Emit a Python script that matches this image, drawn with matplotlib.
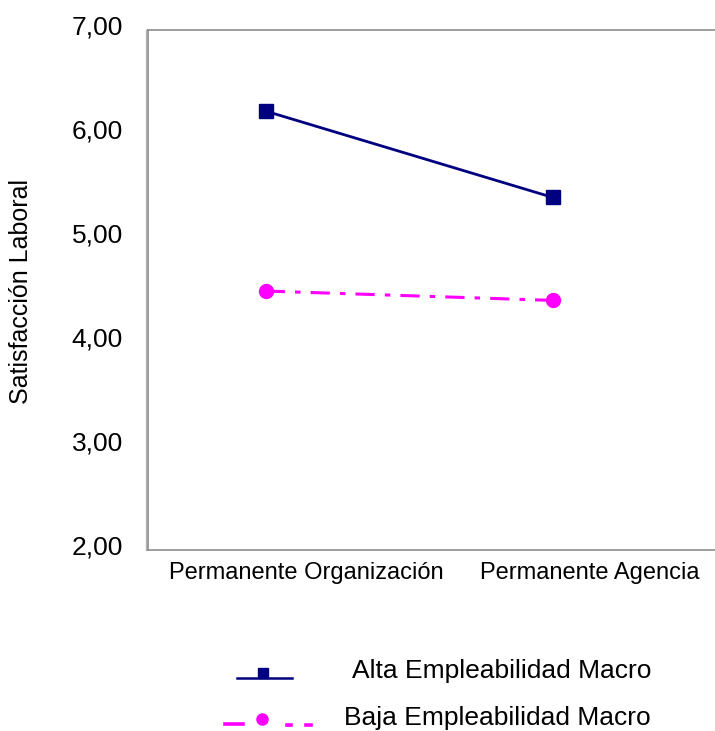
import matplotlib
matplotlib.use("Agg")
import matplotlib.pyplot as plt
import matplotlib.transforms as mtransforms

plt.rcParams['font.family'] = ['Liberation Sans', 'DejaVu Sans']

# Medias de satisfacción laboral por tipo de contrato
categorias = ["Permanente Organización", "Permanente Agencia"]
alta_macro = [6.22, 5.39]
baja_macro = [4.49, 4.40]
series = ["Alta Empleabilidad Macro", "Baja Empleabilidad Macro"]
yticks = [2, 3, 4, 5, 6, 7]
ytick_labels = ["2,00", "3,00", "4,00", "5,00", "6,00", "7,00"]

navy = "#000080"
magenta = "#FF00FF"
dashdot = (0, (6.3, 3.3, 1.8, 3.3))

fig = plt.figure(figsize=(7.15, 7.31), dpi=100)
ax = fig.add_axes([148 / 715, 1 - 550 / 731, 1 - 148 / 715, 520 / 731])

x = list(range(len(categorias)))
ax.plot(x, alta_macro, color=navy, lw=2.0, marker="s", markersize=9.5,
        markeredgecolor=navy, zorder=3)
ax.plot(x, baja_macro, color=magenta, lw=2.2, linestyle=dashdot, marker="o",
        markersize=10, markeredgecolor=magenta, zorder=3)

ax.set_xlim(-0.41, 1.565)
ax.set_ylim(2, 7)

ax.set_yticks(yticks)
ax.set_yticklabels(ytick_labels, fontsize=19)
ax.set_xticks(x)
ax.set_xticklabels(categorias, fontsize=17)
ax.tick_params(axis="y", length=0, pad=18)
ax.tick_params(axis="x", length=0, pad=9)

# etiquetas desplazadas como en la salida original de SPSS
shift_y = mtransforms.ScaledTranslation(0, 0.05, fig.dpi_scale_trans)
for lab in ax.get_yticklabels():
    lab.set_transform(lab.get_transform() + shift_y)
for lab, dx in zip(ax.get_xticklabels(), [0.41, 0.365]):
    lab.set_transform(lab.get_transform() +
                      mtransforms.ScaledTranslation(dx, 0, fig.dpi_scale_trans))

for side in ["top", "bottom", "left"]:
    ax.spines[side].set_color("#8c8c8c")
    ax.spines[side].set_linewidth(1.2)
ax.spines["right"].set_visible(False)
# doble línea del eje vertical
ax.plot([0, 0], [0, 1], color="#b5b5b5", lw=1.0, clip_on=False,
        transform=ax.transAxes + mtransforms.ScaledTranslation(-0.025, 0, fig.dpi_scale_trans))

fig.text(21 / 715, 1 - 292 / 731, "Satisfacción Laboral", rotation=90,
         ha="center", va="center", fontsize=18)

# leyenda dibujada a mano en un eje en píxeles
lg = fig.add_axes([0, 0, 1, 1 - 640 / 731])
lg.set_xlim(0, 715)
lg.set_ylim(731, 640)
lg.axis("off")
lg.plot([237, 292], [678, 678], color=navy, lw=1.8)
lg.plot([263], [673], marker="s", color=navy, markersize=7.5)
lg.plot([225, 243], [724, 724], color=magenta, lw=2.6)
lg.plot([287, 291], [725, 725], color=magenta, lw=2.6)
lg.plot([306, 311], [725, 725], color=magenta, lw=2.6)
lg.plot([262], [719], marker="o", color=magenta, markersize=8)
lg.text(651, 671, series[0], ha="right", va="center", fontsize=19)
lg.text(651, 718, series[1], ha="right", va="center", fontsize=19)

fig.savefig("out.png", dpi=100)
